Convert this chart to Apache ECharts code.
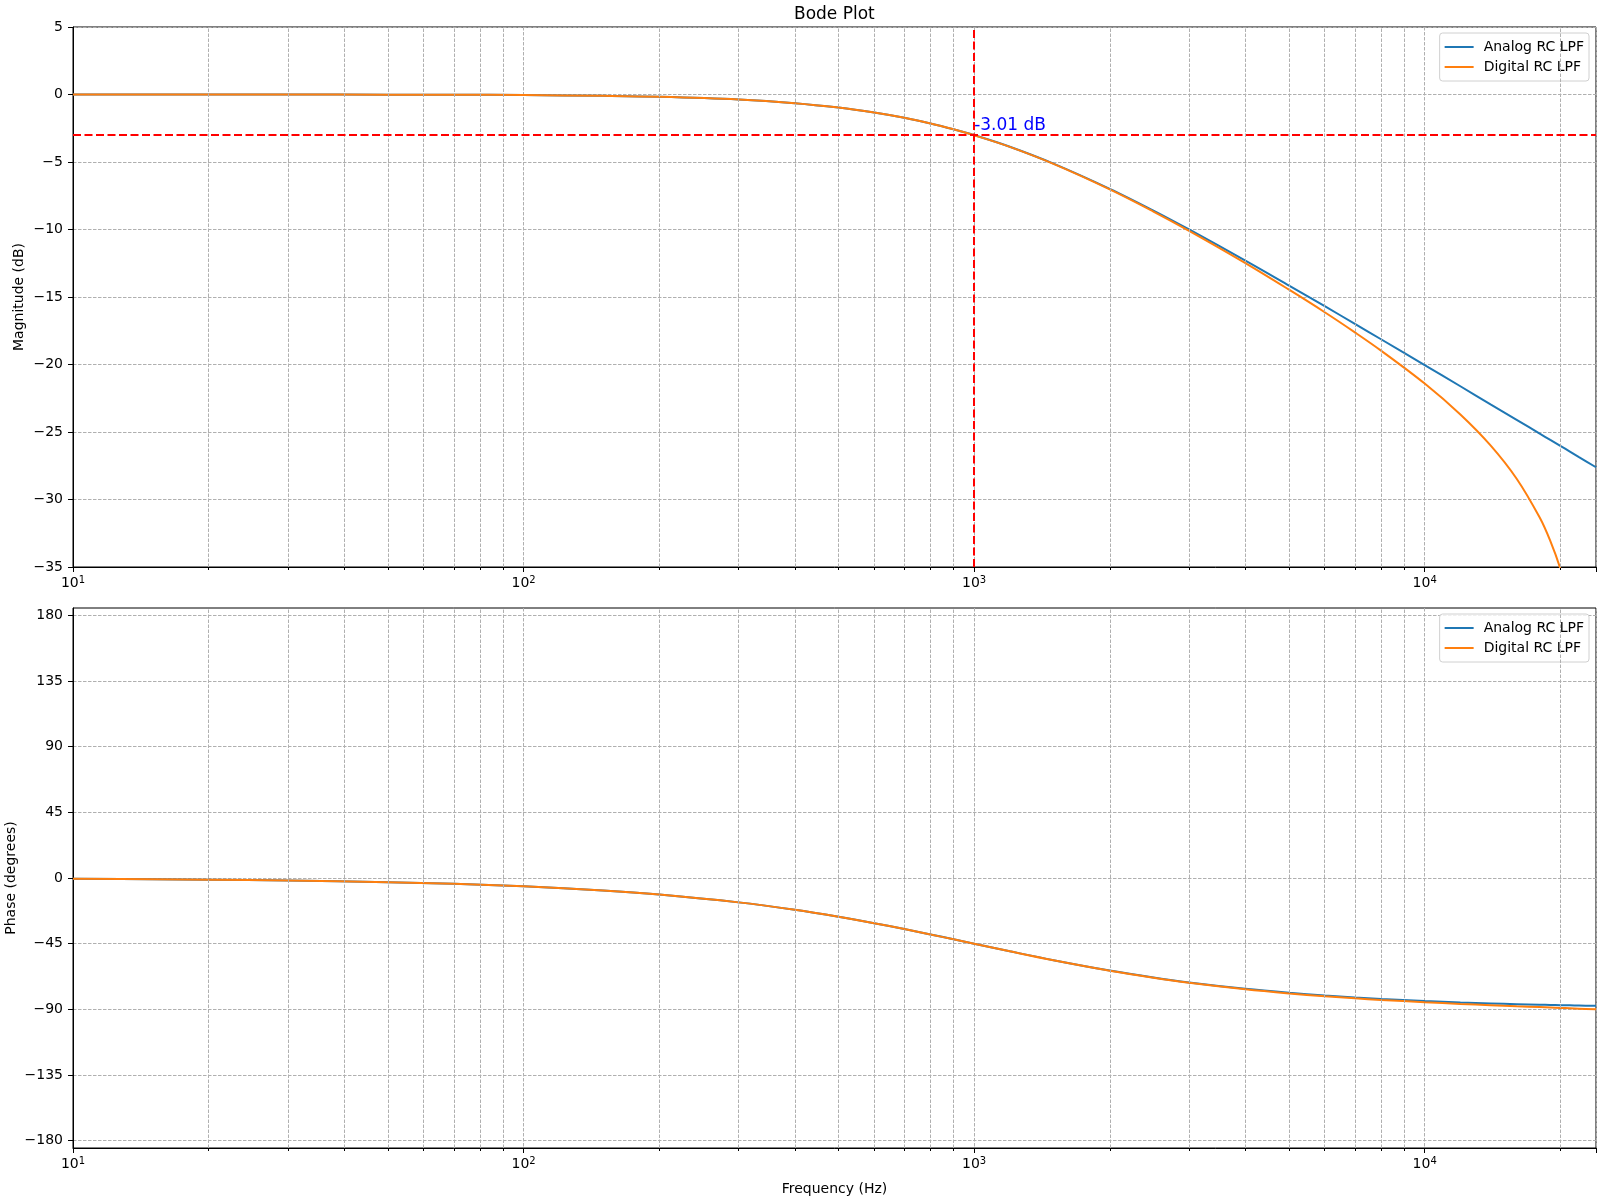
<!DOCTYPE html>
<html>
<head>
<meta charset="utf-8">
<title>Bode Plot</title>
<script src="https://cdn.jsdelivr.net/npm/echarts@6/dist/echarts.min.js"></script>
<style>
  html, body { margin: 0; padding: 0; background: #fff; }
  #main { width: 1600px; height: 1200px; }
</style>
</head>
<body>
<div id="main"></div>
<script>
// frequency points (Hz)
var freqs = [10, 15, 20, 30, 50, 70, 100, 150, 200, 300, 400, 500, 600, 700, 800, 900, 1000, 1200, 1500, 2000, 2500, 3000, 4000, 5000, 6000, 7000, 8000, 10000, 12000, 14000, 16000, 18000, 19000, 20000, 21000, 22000, 24000];

// magnitude (dB)
var analogMag = [0, 0, 0, 0, -0.01, -0.02, -0.04, -0.10, -0.17, -0.37, -0.64, -0.97, -1.34, -1.73, -2.15, -2.58, -3.01, -3.87, -5.12, -6.99, -8.60, -10.00, -12.30, -14.15, -15.68, -16.99, -18.13, -20.04, -21.61, -22.95, -24.10, -25.12, -25.59, -26.03, -26.45, -26.86, -27.61];
var digitalMag = [0, 0, 0, 0, -0.01, -0.02, -0.04, -0.10, -0.17, -0.37, -0.64, -0.97, -1.34, -1.73, -2.15, -2.58, -3.02, -3.88, -5.14, -7.03, -8.67, -10.10, -12.49, -14.46, -16.13, -17.62, -18.97, -21.41, -23.70, -25.99, -28.46, -31.34, -33.07, -35.12, -37.71, -41.29, null];

// phase (degrees)
var analogPhase = [-0.57, -0.86, -1.15, -1.72, -2.86, -4.00, -5.71, -8.53, -11.31, -16.70, -21.80, -26.57, -30.96, -34.99, -38.66, -41.99, -45.00, -50.19, -56.31, -63.43, -68.20, -71.57, -75.96, -78.69, -80.54, -81.87, -82.87, -84.29, -85.24, -85.91, -86.42, -86.82, -86.99, -87.14, -87.27, -87.40, -87.61];
var digitalPhase = [-0.57, -0.86, -1.15, -1.72, -2.86, -4.00, -5.71, -8.53, -11.31, -16.70, -21.80, -26.57, -30.98, -35.01, -38.69, -42.02, -45.04, -50.25, -56.40, -63.57, -68.38, -71.79, -76.27, -79.09, -81.02, -82.44, -83.53, -85.12, -86.26, -87.12, -87.84, -88.45, -88.73, -88.99, -89.25, -89.51, -90.00];

var seriesNames = ['Analog RC LPF', 'Digital RC LPF'];
var phaseTicks = [-180, -135, -90, -45, 0, 45, 90, 135, 180];
var minorFreqs = [20, 30, 40, 50, 60, 70, 80, 90, 200, 300, 400, 500, 600, 700, 800, 900, 2000, 3000, 4000, 5000, 6000, 7000, 8000, 9000, 20000];
var cutoffFreq = 1000;
var cutoffDb = -3.01;

var FONT = 'DejaVu Sans';
var BLUE = '#1f77b4';
var ORANGE = '#ff7f0e';
var GRIDCOLOR = '#b0b0b0';
var DASH = [3.5, 1.5];

function pairs(ys) {
  return freqs.map(function (f, i) { return [f, ys[i]]; });
}

function minus(v) {
  return String(v).replace('-', '\u2212');
}

function xAxisOf(idx, name) {
  return {
    type: 'log',
    logBase: 10,
    gridIndex: idx,
    min: 10,
    max: 24000,
    name: name,
    nameLocation: 'middle',
    nameGap: 34,
    nameMoveOverlap: false,
    nameTextStyle: { fontFamily: FONT, fontSize: 14, color: '#000' },
    axisLine: { show: true, onZero: false, lineStyle: { color: '#000', width: 1 } },
    axisTick: { show: true, length: 5, lineStyle: { color: '#000', width: 1 } },
    axisLabel: {
      margin: 8,
      fontFamily: FONT,
      fontSize: 14,
      color: '#000',
      formatter: function (v) {
        var e = Math.round(Math.log10(v));
        if (Math.abs(Math.pow(10, e) - v) > 1e-6 * v) return '';
        return '{b|10}{sup|' + e + '}';
      },
      rich: {
        b: { fontFamily: FONT, fontSize: 14, color: '#000' },
        sup: { fontFamily: FONT, fontSize: 10, color: '#000', padding: [0, 0, 7, 0] }
      }
    },
    splitLine: { show: true, lineStyle: { color: GRIDCOLOR, width: 1, type: DASH } }
  };
}

// second log axis on each panel, only for the short minor tick marks
function minorTickAxis(idx) {
  return {
    type: 'log',
    logBase: 10,
    gridIndex: idx,
    min: 10,
    max: 24000,
    position: 'bottom',
    axisLine: { show: false, onZero: false },
    axisTick: { show: true, length: 3, customValues: minorFreqs, lineStyle: { color: '#000', width: 1 } },
    axisLabel: { show: false },
    splitLine: { show: false }
  };
}

function minorGridSeries(xi, yi) {
  return {
    type: 'line',
    xAxisIndex: xi,
    yAxisIndex: yi,
    data: [],
    z: 1,
    silent: true,
    markLine: {
      silent: true,
      symbol: 'none',
      animation: false,
      label: { show: false },
      lineStyle: { color: GRIDCOLOR, width: 1, type: DASH },
      data: minorFreqs.map(function (f) { return { xAxis: f }; })
    }
  };
}

function legendAt(top) {
  return {
    data: seriesNames,
    orient: 'vertical',
    right: 11,
    top: top,
    icon: 'rect',
    itemWidth: 29,
    itemHeight: 2,
    itemGap: 4,
    padding: [6, 5, 6, 5],
    backgroundColor: 'rgba(255,255,255,0.8)',
    borderColor: '#d0d0d0',
    borderWidth: 1,
    borderRadius: 3,
    selectedMode: false,
    textStyle: { fontFamily: FONT, fontSize: 14, color: '#000', lineHeight: 16, padding: [0, 0, 0, 5] }
  };
}

function curve(name, xi, ys, color) {
  return {
    name: name, type: 'line', xAxisIndex: xi, yAxisIndex: xi,
    data: pairs(ys), showSymbol: false, smooth: 0.35,
    color: color, lineStyle: { width: 2, color: color }
  };
}

function yAxisBase(idx, name, gap) {
  return {
    type: 'value',
    gridIndex: idx,
    name: name,
    nameLocation: 'middle',
    nameGap: gap,
    nameMoveOverlap: false,
    nameTextStyle: { fontFamily: FONT, fontSize: 14, color: '#000' },
    axisLine: { show: true, lineStyle: { color: '#000', width: 1 } },
    axisTick: { show: true, length: 5, lineStyle: { color: '#000', width: 1 } },
    axisLabel: { margin: 10, fontFamily: FONT, fontSize: 14, color: '#000', formatter: minus },
    splitLine: { show: true, lineStyle: { color: GRIDCOLOR, width: 1, type: DASH } }
  };
}

var magAxis = yAxisBase(0, 'Magnitude (dB)', 47);
magAxis.min = -35;
magAxis.max = 5;
magAxis.interval = 5;

var phaseAxis = yAxisBase(1, 'Phase (degrees)', 55);
phaseAxis.min = -185;
phaseAxis.max = 185;
phaseAxis.axisTick.customValues = phaseTicks;
phaseAxis.axisLabel.customValues = phaseTicks;

var chart = echarts.init(document.getElementById('main'));

var option = {
  animation: false,
  backgroundColor: '#fff',
  title: {
    text: 'Bode Plot',
    left: 789,
    top: 1,
    textStyle: { fontFamily: FONT, fontSize: 17, fontWeight: 'normal', color: '#000' }
  },
  legend: [legendAt(33), legendAt(614)],
  grid: [
    { left: 73, top: 27, width: 1523, height: 540, show: true, borderColor: '#000', borderWidth: 1, outerBoundsMode: 'none' },
    { left: 73, top: 608, width: 1523, height: 540, show: true, borderColor: '#000', borderWidth: 1, outerBoundsMode: 'none' }
  ],
  xAxis: [xAxisOf(0, ''), xAxisOf(1, 'Frequency (Hz)'), minorTickAxis(0), minorTickAxis(1)],
  yAxis: [magAxis, phaseAxis],
  series: [
    minorGridSeries(0, 0),
    minorGridSeries(1, 1),
    curve(seriesNames[0], 0, analogMag, BLUE),
    curve(seriesNames[1], 0, digitalMag, ORANGE),
    curve(seriesNames[0], 1, analogPhase, BLUE),
    curve(seriesNames[1], 1, digitalPhase, ORANGE),
    {
      // -3 dB cutoff markers
      type: 'line', xAxisIndex: 0, yAxisIndex: 0, data: [], z: 5, silent: true,
      markLine: {
        silent: true,
        symbol: 'none',
        label: { show: false },
        lineStyle: { color: '#ff0000', width: 2, type: [8, 3.5] },
        data: [{ yAxis: cutoffDb }, { xAxis: cutoffFreq }]
      },
      markPoint: {
        silent: true,
        symbolSize: 0,
        data: [{ coord: [cutoffFreq, cutoffDb] }],
        label: {
          show: true,
          position: [0, -18],
          formatter: cutoffDb + ' dB',
          fontFamily: FONT,
          fontSize: 17,
          color: '#0000ff'
        }
      }
    }
  ]
};

chart.setOption(option);
</script>
</body>
</html>
